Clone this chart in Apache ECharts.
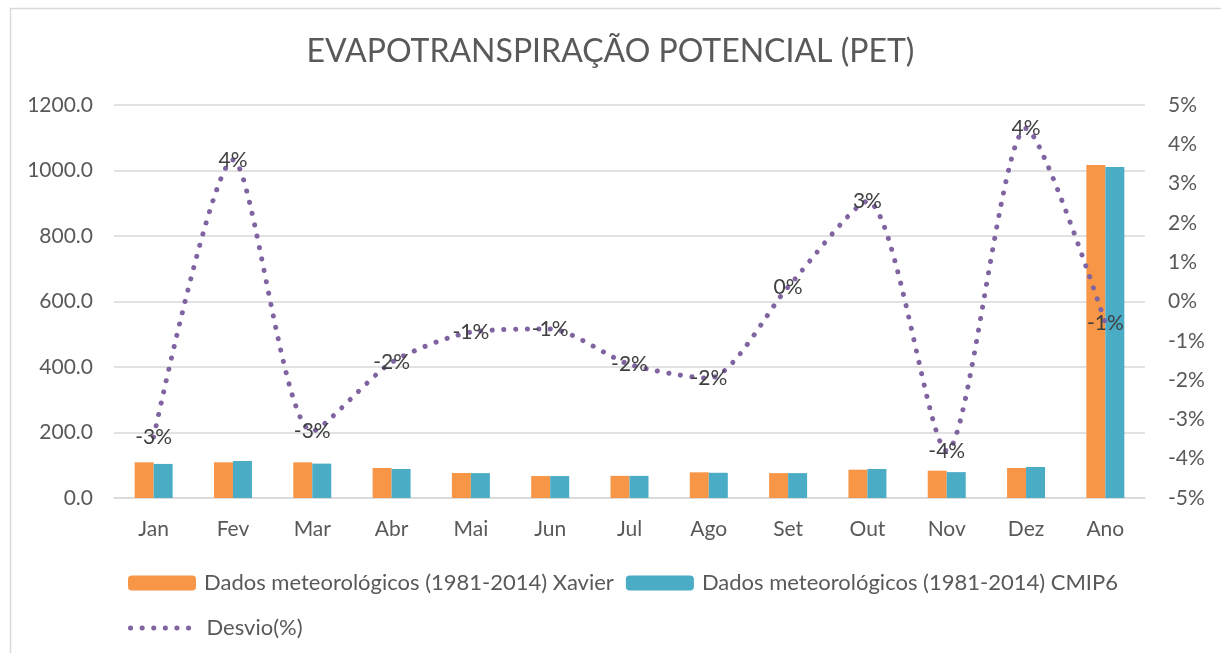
<!DOCTYPE html>
<html>
<head>
<meta charset="utf-8">
<script src="https://cdn.jsdelivr.net/npm/echarts@6/dist/echarts.min.js"></script>
<style>
  html, body { margin: 0; padding: 0; background: #fff; }
  #chart { width: 1221px; height: 653px; }
</style>
</head>
<body>
<div id="chart"></div>
<script>
var categories = ['Jan','Fev','Mar','Abr','Mai','Jun','Jul','Ago','Set','Out','Nov','Dez','Ano'];
var xavier = [109, 109, 109, 91.6, 76.3, 67, 67.6, 78.4, 76, 86.5, 83.4, 91.6, 1017];
var cmip6  = [104, 113, 105, 88.6, 76, 67, 67.6, 77, 76, 88.6, 79, 94.6, 1011];
var desvio = [-3.45, 3.6, -3.3, -1.55, -0.78, -0.7, -1.6, -1.95, 0.37, 2.55, -3.8, 4.4, -0.55];
var leftTicks = { min: 0, max: 1200, interval: 200 };
var rightTicks = { min: -5, max: 5, interval: 1 };

var names = [
  'Dados meteorológicos (1981-2014) Xavier',
  'Dados meteorológicos (1981-2014) CMIP6',
  'Desvio(%)'
];
var font = 'Lato, "Open Sans", sans-serif';
var txt = '#595959';
var grid = '#D9D9D9';
var purple = '#8064A2';
var fs = 21;
var dots = [0.1, 11.5];

var chart = echarts.init(document.getElementById('chart'));
chart.setOption({
  animation: false,
  textStyle: { fontFamily: font },
  title: {
    text: 'EVAPOTRANSPIRAÇÃO POTENCIAL (PET)',
    left: 'center',
    top: 31,
    textStyle: { fontFamily: font, fontSize: 32, fontWeight: 'normal', color: txt }
  },
  graphic: [{
    type: 'rect',
    left: 8, top: 6,
    shape: { width: 1212, height: 700 },
    style: { fill: 'none', stroke: grid, lineWidth: 1.5 },
    silent: true
  }],
  legend: [{
    data: [names[0], names[1]],
    left: 128, top: 572, padding: 0,
    itemWidth: 68, itemHeight: 15, itemGap: 12,
    textStyle: { fontFamily: font, fontSize: 22, color: txt, padding: [0, 0, 0, 3] }
  }, {
    data: [names[2]],
    left: 128, top: 617, padding: 0,
    itemWidth: 68, itemHeight: 15,
    lineStyle: { width: 5, type: dots, cap: 'round', color: purple },
    textStyle: { fontFamily: font, fontSize: 22, color: txt, padding: [0, 0, 0, 3] }
  }],
  grid: { left: 114, right: 76, top: 105, bottom: 155 },
  xAxis: {
    type: 'category',
    data: categories,
    axisTick: { show: false },
    axisLine: { lineStyle: { color: grid, width: 1.5 } },
    axisLabel: { color: txt, fontSize: fs, margin: 21, fontFamily: font }
  },
  yAxis: [{
    type: 'value',
    min: leftTicks.min, max: leftTicks.max, interval: leftTicks.interval,
    axisLine: { show: false },
    axisTick: { show: false },
    splitLine: { lineStyle: { color: grid, width: 1.5 } },
    axisLabel: { color: txt, fontSize: fs, margin: 21, fontFamily: font,
      formatter: function (v) { return v.toFixed(1); } }
  }, {
    type: 'value',
    min: rightTicks.min, max: rightTicks.max, interval: rightTicks.interval,
    axisLine: { show: false },
    axisTick: { show: false },
    splitLine: { show: false },
    axisLabel: { color: txt, fontSize: fs, margin: 23, fontFamily: font,
      formatter: function (v) { return v + '%'; } }
  }],
  series: [{
    name: names[0],
    type: 'bar',
    data: xavier,
    barWidth: 19,
    barGap: '0%',
    itemStyle: { color: '#F79646' }
  }, {
    name: names[1],
    type: 'bar',
    data: cmip6,
    barWidth: 19,
    itemStyle: { color: '#4BACC6' }
  }, {
    name: names[2],
    type: 'line',
    yAxisIndex: 1,
    data: desvio,
    smooth: 0.25,
    symbol: 'circle',
    symbolSize: 1,
    z: 5,
    lineStyle: { color: purple, width: 5, type: dots, cap: 'round' },
    itemStyle: { color: 'rgba(0,0,0,0)' },
    label: {
      show: true,
      position: 'inside',
      color: '#404040',
      fontSize: fs,
      fontFamily: font,
      formatter: function (p) { return p.value.toFixed(0) + '%'; }
    }
  }]
});
</script>
</body>
</html>
